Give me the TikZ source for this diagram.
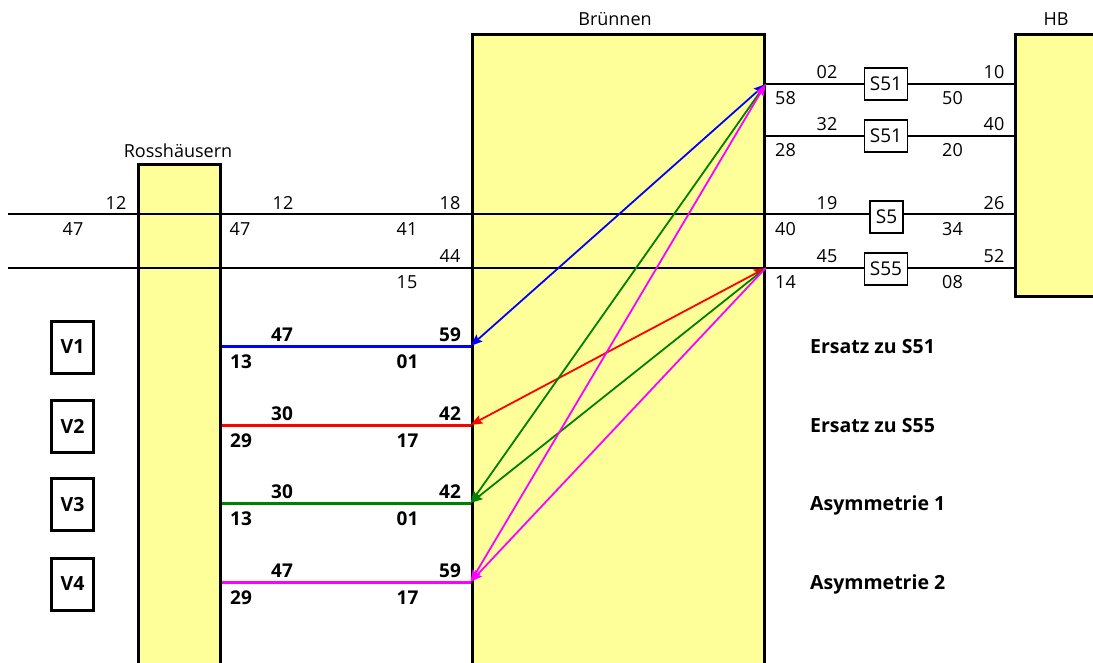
\documentclass[tikz,border=0pt]{standalone}
\usepackage{fontspec}
\setmainfont{Open Sans}
\usetikzlibrary{arrows.meta}
\definecolor{stnyellow}{HTML}{FFFF99}
\definecolor{dgreen}{HTML}{008000}
\definecolor{vblue}{HTML}{0000FF}
\definecolor{vred}{HTML}{FF0000}
\definecolor{vmag}{HTML}{FF00FF}
\begin{document}
\begin{tikzpicture}[x=1pt,y=-1pt,
  every node/.style={font=\fontsize{18}{20}\selectfont},
  stn/.style={draw, line width=3.2pt, fill=stnyellow, anchor=north west, inner sep=0pt},
  sbox/.style={draw, line width=1.3pt, fill=white, minimum width=43pt, minimum height=32pt, inner sep=0pt, font=\fontsize{19}{21}\selectfont},
  vbox/.style={draw, line width=3pt, minimum width=42pt, minimum height=52pt, inner sep=0pt, font=\fontsize{19.5}{21}\selectfont\bfseries},
  num/.style={anchor=base, inner sep=0pt},
  bnum/.style={num, font=\fontsize{19}{21}\selectfont\bfseries},
  captxt/.style={anchor=base west, inner sep=0pt, font=\fontsize{19.5}{21}\selectfont\bfseries},
  wire/.style={line width=1.4pt},
  cwire/.style={line width=3pt},
  diag/.style={line width=1.8pt},
  tipend/.style={-{Stealth[length=12pt,width=9pt,inset=2pt]}},
  tipboth/.style={{Stealth[length=12pt,width=9pt,inset=2pt]}-{Stealth[length=12pt,width=9pt,inset=2pt]}}
]
\clip (0,0) rectangle (1093,662);
\fill[white] (0,0) rectangle (1093,662);

% stations
\node[stn, minimum width=82pt, minimum height=510pt] (ross) at (136.5,163) {};
\node[stn, minimum width=292pt, minimum height=640pt] (brn) at (470.5,33) {};
\node[stn, minimum width=100pt, minimum height=262pt] (hb) at (1014,33) {};
\node[num] (tross) at (178,157) {Rosshäusern};
\node[num] (tbrn) at (615,25) {Brünnen};
\node[num] (thb) at (1056,25) {HB};

% coordinates
\coordinate (w1) at (8,214);
\coordinate (w2) at (8,268);
\coordinate (p58) at (brn.east |- 0,84);
\coordinate (p28) at (brn.east |- 0,136);
\coordinate (p14) at (brn.east |- 0,268);
\coordinate (v1l) at (ross.east |- 0,346);
\coordinate (v2l) at (ross.east |- 0,425);
\coordinate (v3l) at (ross.east |- 0,503);
\coordinate (v4l) at (ross.east |- 0,582);
\coordinate (v1r) at (brn.west |- 0,346);
\coordinate (v2r) at (brn.west |- 0,425);
\coordinate (v3r) at (brn.west |- 0,503);
\coordinate (v4r) at (brn.west |- 0,582);

% long lines
\draw[wire] (w1) -- (w1 -| hb.west);
\draw[wire] (w2) -- (w2 -| hb.west);

% S boxes
\node[sbox] (s1) at (886,84) {S51};
\node[sbox] (s2) at (886,136) {S51};
\node[sbox, minimum width=33pt] (s3) at (886.5,217) {S5};
\node[sbox] (s4) at (886,269) {S55};
\draw[wire] (p58) -- (s1.west |- p58);
\draw[wire] (s1.east |- p58) -- (p58 -| hb.west);
\draw[wire] (p28) -- (s2.west |- p28);
\draw[wire] (s2.east |- p28) -- (p28 -| hb.west);

% right-side numbers
\node[num] (n02) at (827,78) {02};
\node[num] (n58) at (785.5,104) {58};
\node[num] (n10) at (994,78) {10};
\node[num] (n50) at (952.5,104) {50};
\node[num] (n32) at (827,130) {32};
\node[num] (n28) at (785.5,156) {28};
\node[num] (n40a) at (994,130) {40};
\node[num] (n20) at (952.5,156) {20};
\node[num] (n19) at (827,209) {19};
\node[num] (n40b) at (785.5,235) {40};
\node[num] (n26) at (994,209) {26};
\node[num] (n34) at (952.5,235) {34};
\node[num] (n45) at (827,262) {45};
\node[num] (n14) at (785.5,288) {14};
\node[num] (n52) at (994,262) {52};
\node[num] (n08) at (952.5,288) {08};

% left-side numbers
\node[num] (l12a) at (116,209) {12};
\node[num] (l47a) at (73,235) {47};
\node[num] (l12b) at (283,209) {12};
\node[num] (l47b) at (240,235) {47};
\node[num] (l18) at (450,209) {18};
\node[num] (l41) at (407,235) {41};
\node[num] (l44) at (450,262) {44};
\node[num] (l15) at (407,288) {15};

% V boxes
\node[vbox] (V1) at (72.5,347) {V1};
\node[vbox] (V2) at (72.5,426) {V2};
\node[vbox] (V3) at (72.5,504.5) {V3};
\node[vbox] (V4) at (72.5,584) {V4};

% coloured connections
\draw[cwire, vblue] (v1l) -- (v1r);
\draw[cwire, vred] (v2l) -- (v2r);
\draw[cwire, dgreen] (v3l) -- (v3r);
\draw[cwire, vmag] (v4l) -- (v4r);

\node[bnum] (b1a) at (282,341) {47};
\node[bnum] (b1b) at (450,341) {59};
\node[bnum] (b1c) at (241,368) {13};
\node[bnum] (b1d) at (407.5,368) {01};
\node[bnum] (b2a) at (282,420) {30};
\node[bnum] (b2b) at (450,420) {42};
\node[bnum] (b2c) at (241,447) {29};
\node[bnum] (b2d) at (407.5,447) {17};
\node[bnum] (b3a) at (282,498) {30};
\node[bnum] (b3b) at (450,498) {42};
\node[bnum] (b3c) at (241,525) {13};
\node[bnum] (b3d) at (407.5,525) {01};
\node[bnum] (b4a) at (282,577) {47};
\node[bnum] (b4b) at (450,577) {59};
\node[bnum] (b4c) at (241,604) {29};
\node[bnum] (b4d) at (407.5,604) {17};

% diagonals
\draw[diag, vblue, tipboth] (v1r) -- (p58);
\draw[diag, vred, tipboth] (v2r) -- (p14);
\draw[diag, dgreen, tipend] (p58) -- (v3r);
\draw[diag, dgreen, tipend] (p14) -- (v3r);
\draw[diag, vmag, tipboth] (v4r) -- (p58);
\draw[diag, vmag, tipend] (p14) -- (v4r);

% captions
\node[captxt] (c1) at (810,353) {Ersatz zu S51};
\node[captxt] (c2) at (810,432) {Ersatz zu S55};
\node[captxt] (c3) at (810,510) {Asymmetrie 1};
\node[captxt] (c4) at (810,589) {Asymmetrie 2};
\end{tikzpicture}
\end{document}
